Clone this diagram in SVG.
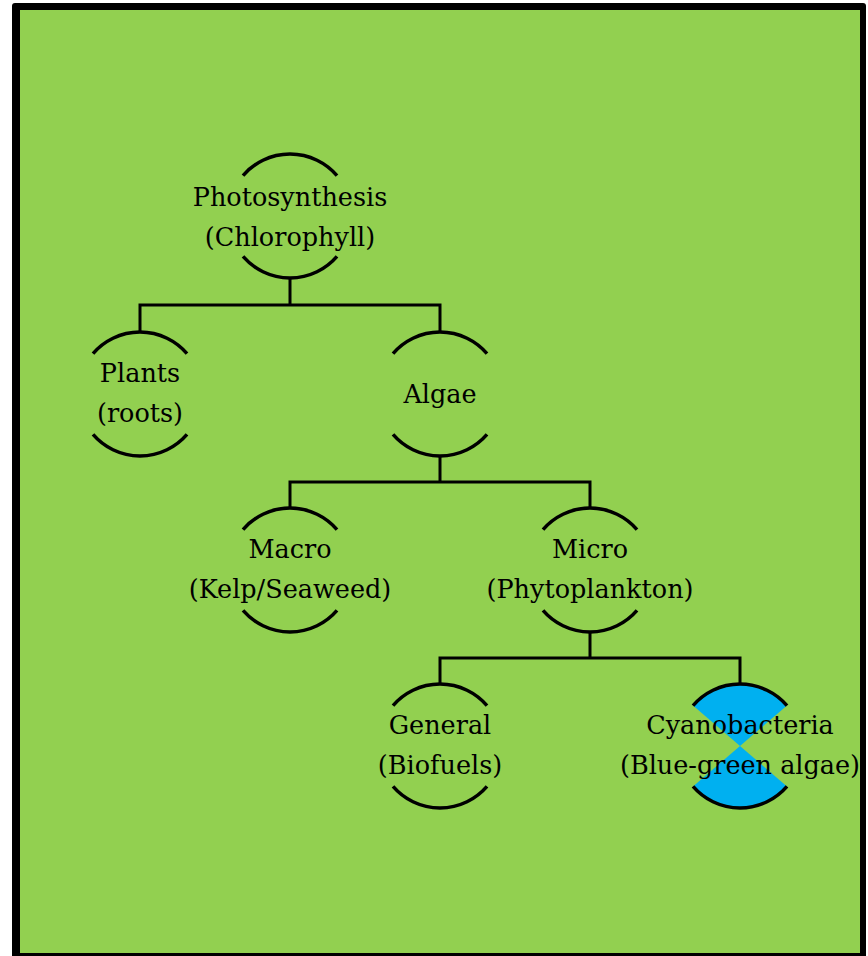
<svg xmlns="http://www.w3.org/2000/svg" width="868" height="956" viewBox="0 0 868 956">
  <style>
    .arc { fill: none; stroke: #000; stroke-width: 3.5; }
    .conn { fill: none; stroke: #000; stroke-width: 3; stroke-linejoin: miter; }
    .lbl { font-family: "DejaVu Serif", "Liberation Serif", serif; font-size: 25.5px; fill: #000; text-anchor: middle; }
    .cap { fill: #00B0F0; stroke: none; }
  </style>
  <defs>
    <g id="ring">
      <path class="arc" d="M -47 -40.4 A 62 62 0 0 1 47 -40.4"/>
      <path class="arc" d="M -47 40.4 A 62 62 0 0 0 47 40.4"/>
    </g>
  </defs>
  <rect x="12" y="3" width="854" height="960" rx="3" fill="#000"/>
  <rect x="20" y="10" width="840" height="943" fill="#92D050"/>

  <g id="connectors">
    <path class="conn" d="M 290 278 V 305 M 140 332 V 305 H 440 V 332"/>
    <path class="conn" d="M 440 456 V 482 M 290 508 V 482 H 590 V 508"/>
    <path class="conn" d="M 590 632 V 658 M 440 684 V 658 H 740 V 684"/>
  </g>

  <g id="photosynthesis" transform="translate(290,216)">
    <use href="#ring"/>
    <text class="lbl" x="0" y="-10">Photosynthesis</text>
    <text class="lbl" x="0" y="30">(Chlorophyll)</text>
  </g>
  <g id="plants" transform="translate(140,394)">
    <use href="#ring"/>
    <text class="lbl" x="0" y="-12">Plants</text>
    <text class="lbl" x="0" y="28">(roots)</text>
  </g>
  <g id="algae" transform="translate(440,394)">
    <use href="#ring"/>
    <text class="lbl" x="0" y="9">Algae</text>
  </g>
  <g id="macro" transform="translate(290,570)">
    <use href="#ring"/>
    <text class="lbl" x="0" y="-12">Macro</text>
    <text class="lbl" x="0" y="28">(Kelp/Seaweed)</text>
  </g>
  <g id="micro" transform="translate(590,570)">
    <use href="#ring"/>
    <text class="lbl" x="0" y="-12">Micro</text>
    <text class="lbl" x="0" y="28">(Phytoplankton)</text>
  </g>
  <g id="general" transform="translate(440,746)">
    <use href="#ring"/>
    <text class="lbl" x="0" y="-12">General</text>
    <text class="lbl" x="0" y="28">(Biofuels)</text>
  </g>
  <g id="cyanobacteria" transform="translate(740,746)">
    <path class="cap" d="M 0 0 L -47 -40.4 A 62 62 0 0 1 47 -40.4 Z"/>
    <path class="cap" d="M 0 0 L -47 40.4 A 62 62 0 0 0 47 40.4 Z"/>
    <use href="#ring"/>
    <text class="lbl" x="0" y="-12">Cyanobacteria</text>
    <text class="lbl" x="0" y="28">(Blue-green algae)</text>
  </g>
</svg>
